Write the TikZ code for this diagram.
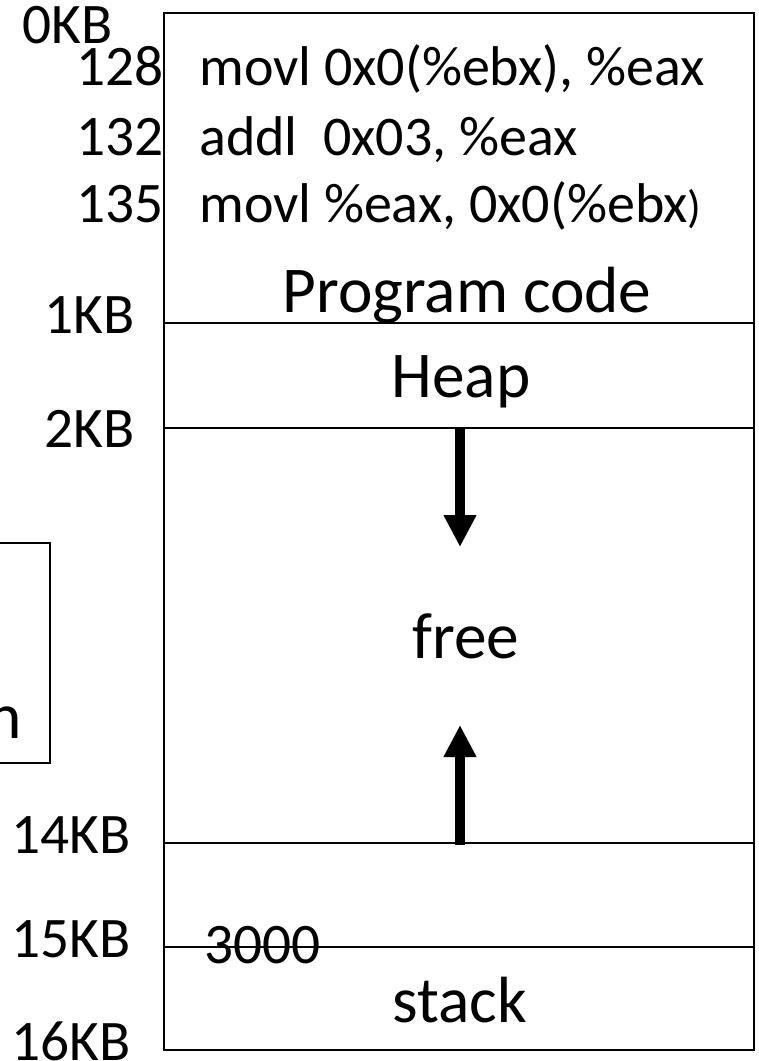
\documentclass[tikz,border=0pt]{standalone}
\usepackage{fontspec}
\setmainfont{Carlito}
\usetikzlibrary{arrows.meta,positioning}

\begin{document}
\begin{tikzpicture}[x=0.75pt, y=-0.75pt,
  addr/.style={anchor=base east, inner sep=0pt, font=\fontsize{43}{51}\selectfont},
  instr/.style={anchor=base west, inner sep=0pt, font=\fontsize{42}{50}\selectfont},
  region/.style={anchor=base, inner sep=0pt, font=\fontsize{49}{58}\selectfont},
  divider/.style={line width=1.2pt},
  growarr/.style={-{Triangle[length=24pt, width=23pt]}, line width=7pt}]

  \useasboundingbox (0,0) rectangle (758,1061);

  % Address space outline and region borders
  \draw[line width=1.5pt] (164,13) rectangle (754,1050);
  \draw[divider] (164,323) -- (754,323);
  \draw[divider] (164,428) -- (754,428);
  \draw[divider] (164,843) -- (754,843);

  % Cut-off box on the left
  \draw[line width=1pt] (-10,543) -- (50,543) -- (50,763) -- (-10,763);
  \node[region, anchor=base east] (cut) at (22,738) {n};

  % Addresses (top to bottom)
  \node[addr] (A0)  at (113,43)   {0KB};
  \node[addr] (A1)  at (135,333)  {1KB};
  \node[addr] (A2)  at (135,447)  {2KB};
  \node[addr] (A14) at (131,853)  {14KB};
  \node[addr] (A15) at (131,957)  {15KB};
  \node[addr] (A16) at (131,1060) {16KB};

  % Instructions in the code segment
  \node[addr]  (L128) at (164,85)  {128};
  \node[addr]  (L132) at (164,155) {132};
  \node[addr]  (L135) at (164,222) {135};
  \node[instr] (I128) at (199,85)  {movl 0x0(\%ebx), \%eax};
  \node[instr] (I132) at (199,155) {addl\ \ 0x03, \%eax};
  \node[instr] (I135) at (199,222) {movl \%eax, 0x0(\%ebx{\fontsize{34}{40}\selectfont)}};

  % Region names
  \node[region] (code)  at (467,312)  {Program code};
  \node[region] (heap)  at (461,397)  {Heap};
  \node[region] (free)  at (466,658)  {free};
  \node[region] (stack) at (460,1022) {stack};
  \node[addr, anchor=base west] (sp) at (204,963) {3000};
  \draw[divider] (164,947) -- (754,947);

  % Heap grows down, stack grows up
  \coordinate (heapTop)  at (460,428);
  \coordinate (heapEnd)  at (460,547);
  \coordinate (stackTop) at (460,845);
  \coordinate (stackEnd) at (460,725);
  \draw[growarr] (heapTop) -- (heapEnd);
  \draw[growarr] (stackTop) -- (stackEnd);
\end{tikzpicture}
\end{document}
